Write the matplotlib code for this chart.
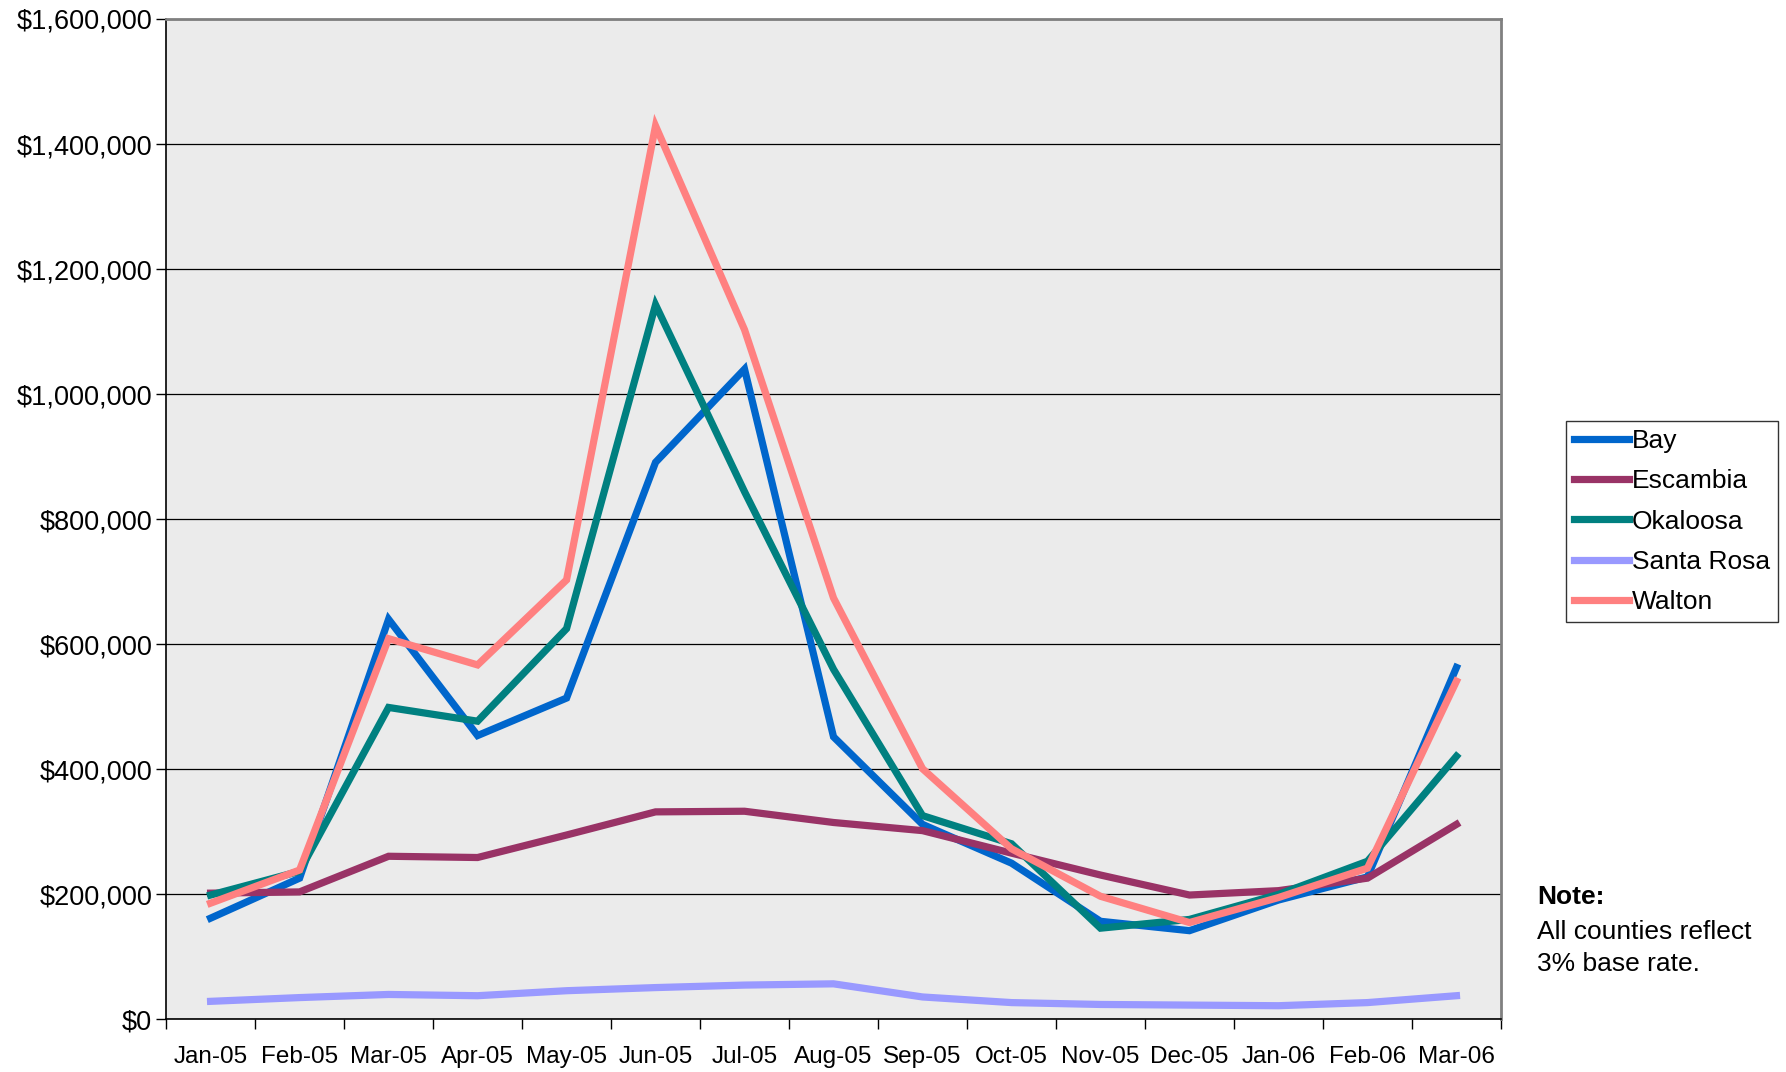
import matplotlib
matplotlib.use("Agg")
from matplotlib import pyplot as plt
from matplotlib.ticker import FuncFormatter, FixedLocator
import numpy as np

plt.rcParams['font.family'] = ['Liberation Sans', 'DejaVu Sans']

months = ["Jan-05", "Feb-05", "Mar-05", "Apr-05", "May-05", "Jun-05", "Jul-05", "Aug-05",
          "Sep-05", "Oct-05", "Nov-05", "Dec-05", "Jan-06", "Feb-06", "Mar-06"]

bay = [162000, 226000, 640000, 454000, 514000, 891000, 1040000, 452000,
       312000, 250000, 157000, 142000, 191000, 228000, 563000]
escambia = [202000, 204000, 261000, 259000, 295000, 332000, 333000, 315000,
            302000, 266000, 231000, 199000, 206000, 226000, 312000]
okaloosa = [199000, 237000, 499000, 477000, 625000, 1143000, 844000, 560000,
            326000, 281000, 146000, 160000, 200000, 253000, 421000]
santa_rosa = [29000, 35000, 40000, 38000, 46000, 51000, 55000, 57000,
              36000, 27000, 24000, 23000, 22000, 27000, 38000]
walton = [186000, 239000, 609000, 567000, 703000, 1429000, 1103000, 674000,
          401000, 273000, 197000, 155000, 195000, 242000, 541000]

series = [("Bay", bay, "#0066CC"),
          ("Escambia", escambia, "#993366"),
          ("Okaloosa", okaloosa, "#008080"),
          ("Santa Rosa", santa_rosa, "#9999FF"),
          ("Walton", walton, "#FF8080")]

fig = plt.figure(figsize=(17.86, 10.72), dpi=100)
ax = fig.add_axes([0.093, 0.049, 0.7474, 0.9333])
ax.set_facecolor("#ebebeb")

x = np.arange(len(months))
for name, vals, col in series:
    ax.plot(x, vals, color=col, lw=5.2, label=name, solid_joinstyle="miter", zorder=3)

ax.set_xlim(-0.5, len(months) - 0.5)
ax.set_ylim(0, 1600000)
ax.set_yticks(np.arange(0, 1600001, 200000))
ax.yaxis.set_major_formatter(FuncFormatter(lambda v, p: "${:,.0f}".format(v)))
ax.grid(axis="y", color="black", lw=0.9, zorder=1)

ax.xaxis.set_major_locator(FixedLocator(np.arange(-0.5, len(months), 1)))
ax.xaxis.set_minor_locator(FixedLocator(x))
ax.set_xticklabels([], minor=False)
ax.set_xticklabels(months, minor=True)
ax.tick_params(axis="x", which="minor", length=0, pad=19, labelsize=17.5)
ax.tick_params(axis="x", which="major", length=7, width=1, direction="out")
ax.tick_params(axis="y", length=7, width=1, pad=3, labelsize=19.5)

for side in ["top", "right"]:
    ax.spines[side].set_color("#808080")
    ax.spines[side].set_linewidth(2)
ax.spines["left"].set_linewidth(1.2)
ax.spines["bottom"].set_linewidth(1.2)

leg = fig.legend(loc="upper left", bbox_to_anchor=(0.8768, 0.6073), fontsize=19,
                 frameon=True, fancybox=False, edgecolor="black", handlelength=2.1,
                 handletextpad=0.1, labelspacing=0.62, borderpad=0.3, borderaxespad=0)
leg.get_frame().set_linewidth(1)
for line in leg.get_lines():
    line.set_linewidth(5.2)

fig.text(0.8606, 0.174, "Note:", fontsize=19, fontweight="bold", va="top")
fig.text(0.8606, 0.142, "All counties reflect\n3% base rate.", fontsize=19, va="top",
         linespacing=1.45)

fig.savefig("out.png", dpi=100)
